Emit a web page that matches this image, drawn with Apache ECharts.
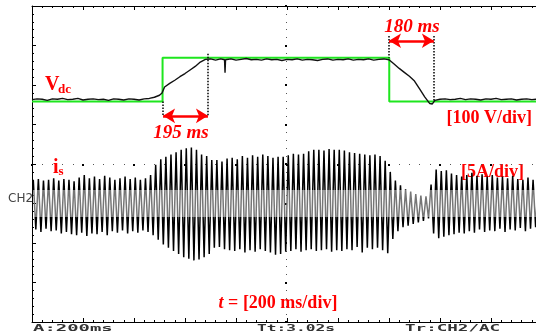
<!DOCTYPE html>
<html>
<head>
<meta charset="utf-8">
<script src="https://cdn.jsdelivr.net/npm/echarts@6/dist/echarts.min.js"></script>
<style>
html, body { margin: 0; padding: 0; background: #fff; }
#chart { width: 536px; height: 336px; }
</style>
</head>
<body>
<div id="chart"></div>
<script>
// screen: 10 div x 200 ms, 8 div high (values in div, 0 = bottom)
// Vdc reference (green)
const refTime = [0, 512, 512, 1401, 1401, 2000];
const refDiv = [5.58, 5.58, 6.69, 6.69, 5.58, 5.58];

// Vdc measured (black)
const vdcTime = [0, 20, 40, 60, 80, 100, 120, 140, 160, 180, 200, 220, 240, 260, 280, 300, 320, 340, 360, 380,
  400, 420, 440, 460, 480, 500, 510, 520, 540, 560, 580, 600, 620, 640, 660, 680, 700, 720, 740, 755, 757, 759,
  780, 800, 820, 840, 860, 880, 900, 920, 940, 960, 980, 1000, 1020, 1040, 1060, 1080, 1100, 1120, 1140, 1160,
  1180, 1200, 1220, 1240, 1260, 1280, 1300, 1320, 1340, 1360, 1380, 1400, 1420, 1440, 1460, 1480, 1500, 1520,
  1540, 1560, 1570, 1580, 1600, 1620, 1640, 1660, 1680, 1700, 1720, 1740, 1760, 1780, 1800, 1820, 1840, 1860,
  1880, 1900, 1920, 1940, 1960, 1980, 2000];
const vdcDiv = [5.63, 5.65, 5.64, 5.61, 5.65, 5.64, 5.66, 5.63, 5.64, 5.66, 5.62, 5.64, 5.65, 5.63, 5.64, 5.61, 5.65, 5.64, 5.62, 5.65,
  5.64, 5.62, 5.65, 5.66, 5.69, 5.74, 5.80, 5.95, 6.04, 6.12, 6.21, 6.29, 6.38, 6.47, 6.58, 6.65, 6.66, 6.63, 6.66, 6.64, 6.31, 6.64,
  6.66, 6.63, 6.65, 6.67, 6.64, 6.65, 6.63, 6.66, 6.64, 6.65, 6.62, 6.65, 6.64, 6.66, 6.63, 6.65, 6.64, 6.62, 6.65, 6.66,
  6.63, 6.65, 6.64, 6.66, 6.63, 6.65, 6.64, 6.66, 6.63, 6.65, 6.66, 6.64, 6.53, 6.42, 6.32, 6.22, 6.10, 5.90,
  5.70, 5.53, 5.52, 5.61, 5.64, 5.65, 5.63, 5.64, 5.66, 5.63, 5.65, 5.64, 5.62, 5.65, 5.64, 5.66, 5.63, 5.64,
  5.65, 5.62, 5.64, 5.65, 5.63, 5.64, 5.64];

// is: positive / negative peak of each 50 Hz cycle (A), CH2 zero at 3 div, 5 A/div
const isPos = [3.0, 3.1, 2.9, 3.0, 3.2, 2.9, 3.1, 3.0, 2.8, 3.3, 3.6, 3.2, 3.4, 3.1, 3.5, 3.3, 3.0, 3.2, 3.4, 3.1, 3.3, 3.0, 3.2, 3.6,
  4.9, 5.6, 5.9, 6.2, 6.5, 6.8, 7.0, 7.1, 6.8, 6.2, 6.0, 5.5, 5.5, 5.3, 5.7, 5.8, 5.6, 6.0, 5.8, 6.1, 5.9, 6.2, 6.0, 5.8, 5.9, 5.9,
  6.1, 6.3, 6.2, 6.3, 6.6, 6.8, 6.8, 6.7, 6.9, 6.8, 6.8, 6.7, 6.5, 6.4, 6.3, 6.2,
  6.1, 6.2, 6.0, 5.4, 4.0, 2.9, 2.3, 1.8, 1.5, 1.2, 1.0, 0.9, 2.4, 4.3,
  4.1, 4.2, 3.8, 3.6, 3.4, 3.6, 3.9, 3.5, 3.7, 3.4, 3.6, 3.3, 3.4, 3.2, 3.5, 3.1, 3.0, 3.3, 3.0, 3.1];
const isNeg = [-3.3, -3.6, -3.2, -3.5, -3.4, -3.8, -3.6, -3.9, -4.0, -3.7, -4.1, -3.8, -3.9, -3.6, -4.0, -3.5, -3.7, -3.4, -3.8, -3.5, -3.7, -3.4, -3.6, -4.0,
  -4.6, -5.2, -5.6, -6.0, -6.4, -6.8, -7.0, -7.2, -7.1, -6.8, -6.4, -5.6, -5.5, -5.8, -5.9, -6.0, -5.8, -6.2, -5.9, -6.1, -5.8, -6.0, -6.2, -6.5, -6.4, -6.1,
  -6.0, -5.8, -6.1, -5.9, -5.8, -6.0, -5.9, -5.8, -6.1, -5.9, -6.0, -5.8, -5.9, -5.5, -6.2, -5.6,
  -5.8, -5.6, -5.9, -6.3, -4.5, -3.5, -3.0, -2.8, -2.6, -2.4, -2.2, -1.9, -3.8, -4.4,
  -4.2, -4.0, -3.9, -3.7, -3.8, -3.5, -3.7, -3.3, -3.6, -3.4, -3.5, -3.2, -3.6, -3.3, -3.4, -3.1, -3.5, -3.2, -3.0, -2.8];

// time markers: [t start, t end, arrow level]
const arrowSpans = [[514, 690, 5.22], [1400, 1576, 7.12]];
// dotted guides: [t, from, to]
const guideLines = [[514, 5.58, 5.22], [690, 6.79, 5.22], [1400, 7.24, 6.69], [1576, 7.24, 5.61]];

const CH2_ZERO = 3;
const A_PER_DIV = 5;

const isData = [];
isPos.forEach((p, k) => {
  isData.push([k * 20 + 5, CH2_ZERO + p / A_PER_DIV]);
  isData.push([k * 20 + 15, CH2_ZERO + isNeg[k] / A_PER_DIV]);
});

const chart = echarts.init(document.getElementById('chart'));

const gridBox = { left: 32, top: 6, width: 510, height: 316, outerBoundsMode: 'none' };
const red = '#ff0000';
const serif = '"Liberation Serif", "DejaVu Serif", serif';

// border axes (solid, ticks inside)
const borderX = (pos) => ({
  gridIndex: 0, type: 'value', min: 0, max: 2000, interval: 200, position: pos,
  axisLine: { show: true, onZero: false, lineStyle: { color: '#000', width: 1 } },
  axisTick: { show: true, inside: true, length: 4, lineStyle: { color: '#000' } },
  minorTick: { show: true, splitNumber: 5, length: 2, lineStyle: { color: '#000' } },
  axisLabel: { show: false }, splitLine: { show: false }
});

const option = {
  animation: false,
  backgroundColor: '#fff',
  grid: [gridBox, gridBox],
  xAxis: [
    borderX('bottom'),
    borderX('top'),
    {
      // center dotted line
      gridIndex: 1, type: 'value', min: -1000, max: 1000, interval: 200,
      axisLine: { show: true, onZero: true, lineStyle: { opacity: 0 } },
      axisTick: { show: true, length: 2, lineStyle: { color: '#000', width: 2 } },
      minorTick: { show: true, splitNumber: 5, length: 1, lineStyle: { color: '#555', width: 1 } },
      axisLabel: { show: false }, splitLine: { show: false }
    }
  ],
  yAxis: [
    {
      gridIndex: 0, type: 'value', min: 0, max: 8, interval: 1, position: 'left',
      axisLine: { show: true, onZero: false, lineStyle: { color: '#000', width: 1 } },
      axisTick: { show: true, inside: true, length: 4, lineStyle: { color: '#000' } },
      minorTick: { show: true, splitNumber: 5, length: 2, lineStyle: { color: '#000' } },
      axisLabel: { show: false }, splitLine: { show: false }
    },
    {
      gridIndex: 1, type: 'value', min: -4, max: 4, interval: 1,
      axisLine: { show: true, onZero: true, lineStyle: { opacity: 0 } },
      axisTick: { show: true, length: 2, lineStyle: { color: '#000', width: 2 } },
      minorTick: { show: true, splitNumber: 5, length: 1, lineStyle: { color: '#555', width: 1 } },
      axisLabel: { show: false }, splitLine: { show: false }
    }
  ],
  visualMap: {
    type: 'piecewise', show: false, seriesIndex: 1, dimension: 1,
    pieces: [
      { lt: 2.66, color: '#000' },
      { gte: 2.66, lte: 3.34, color: '#767676' },
      { gt: 3.34, color: '#000' }
    ]
  },
  series: [
    {
      name: 'Vdc ref', type: 'line', xAxisIndex: 0, yAxisIndex: 0,
      data: refTime.map((t, i) => [t, refDiv[i]]),
      showSymbol: false, lineStyle: { color: '#1ee61e', width: 2 }, z: 2
    },
    {
      name: 'is', type: 'line', xAxisIndex: 0, yAxisIndex: 0,
      data: isData, showSymbol: false, lineStyle: { width: 1.5 }, z: 3
    },
    {
      name: 'Vdc', type: 'line', xAxisIndex: 0, yAxisIndex: 0,
      data: vdcTime.map((t, i) => [t, vdcDiv[i]]),
      showSymbol: false, lineStyle: { color: '#111', width: 1.4 }, z: 4
    },
    {
      name: 'marks', type: 'line', xAxisIndex: 0, yAxisIndex: 0, data: [], z: 5,
      markLine: {
        silent: true, animation: false, label: { show: false },
        data: [
          ...guideLines.map(g => [
            { coord: [g[0], g[1]], symbol: 'none', lineStyle: { color: '#000', width: 1.5, type: 'dotted' } },
            { coord: [g[0], g[2]], symbol: 'none' }
          ]),
          ...arrowSpans.map(a => [
            { coord: [a[0], a[2]], symbol: 'arrow', symbolSize: [11, 12], lineStyle: { color: red, width: 2.5, type: 'solid' } },
            { coord: [a[1], a[2]], symbol: 'arrow', symbolSize: [11, 12] }
          ])
        ]
      }
    }
  ],
  graphic: [
    { type: 'text', x: 45, y: 85, style: { text: 'V', font: 'bold 20px ' + serif, fill: red, verticalAlign: 'middle' } },
    { type: 'text', x: 58, y: 90, style: { text: 'dc', font: 'bold 13px ' + serif, fill: red, verticalAlign: 'middle' } },
    { type: 'text', x: 181, y: 133, style: { text: '195 ms', font: 'italic bold 19px ' + serif, fill: red, align: 'center', verticalAlign: 'middle' } },
    { type: 'text', x: 412, y: 27, style: { text: '180 ms', font: 'italic bold 19px ' + serif, fill: red, align: 'center', verticalAlign: 'middle' } },
    { type: 'text', x: 532, y: 118, style: { text: '[100 V/div]', font: 'bold 18px ' + serif, fill: red, align: 'right', verticalAlign: 'middle' } },
    { type: 'text', x: 53, y: 168, style: { text: 'i', font: 'bold 20px ' + serif, fill: red, verticalAlign: 'middle' } },
    { type: 'text', x: 58.5, y: 172, style: { text: 's', font: 'bold 13px ' + serif, fill: red, verticalAlign: 'middle' } },
    { type: 'text', x: 461, y: 172, style: { text: '[5A/div]', font: 'bold 18px ' + serif, fill: red, verticalAlign: 'middle' } },
    {
      type: 'text', x: 278, y: 303,
      style: {
        text: '{i|t} = [200 ms/div]', font: 'bold 18px ' + serif, fill: red, align: 'center', verticalAlign: 'middle',
        rich: { i: { font: 'italic bold 18px ' + serif, fill: red } }
      }
    },
    { type: 'text', x: 8, y: 199, style: { text: 'CH2', font: '12px "DejaVu Sans"', fill: '#444', verticalAlign: 'middle' } },
    { type: 'text', x: 33, y: 329, scaleX: 2.1, style: { text: 'A:200ms', font: 'bold 9px "DejaVu Sans Mono"', fill: '#333', verticalAlign: 'middle' } },
    { type: 'text', x: 257, y: 329, scaleX: 1.8, style: { text: 'Tt:3.02s', font: 'bold 9px "DejaVu Sans Mono"', fill: '#333', verticalAlign: 'middle' } },
    { type: 'text', x: 405, y: 329, scaleX: 1.95, style: { text: 'Tr:CH2/AC', font: 'bold 9px "DejaVu Sans Mono"', fill: '#333', verticalAlign: 'middle' } }
  ]
};

chart.setOption(option);
</script>
</body>
</html>
